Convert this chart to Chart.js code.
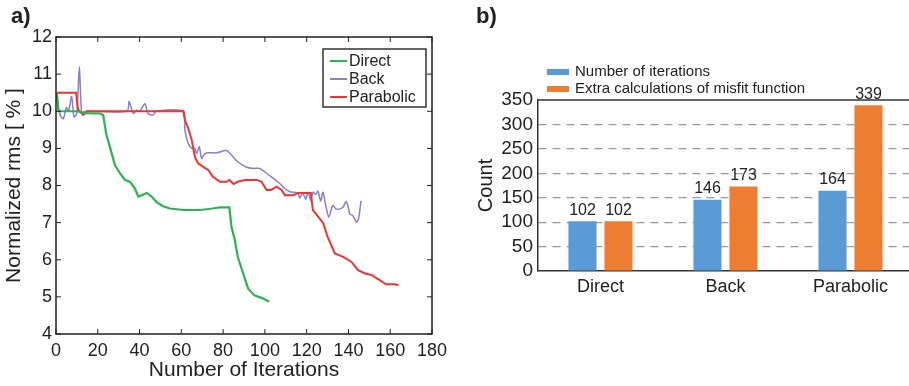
<!DOCTYPE html>
<html lang="en">
<head>
  <meta charset="UTF-8">
  <title>rms convergence and count</title>
  <script src="https://cdn.jsdelivr.net/npm/chart.js"></script>
  <style>
    html, body { margin: 0; padding: 0; background: #fff; overflow: hidden; }
    body { width: 909px; height: 386px; position: relative; }
    #chartA { position: absolute; left: 0; top: 0; }
    #chartB { position: absolute; left: 460px; top: 0; }
  </style>
</head>
<body>
  <canvas id="chartA" width="460" height="386"></canvas>
  <canvas id="chartB" width="470" height="386"></canvas>

  <script>
    // a) normalized rms vs iteration
    const directIter = [0, 0.5, 1.2, 10, 14, 21, 22.6, 24, 25.8, 28.2, 30.6, 33, 35.4, 37.8, 39.4, 41, 43.4, 45.8, 48, 51, 54.5, 61, 69, 75, 78.5, 83, 84, 85.6, 87, 89.6, 92, 95, 99, 102]
    const directRms = [10.44, 10.44, 10.0, 10.0, 9.95, 9.94, 9.9, 9.4, 9.04, 8.55, 8.33, 8.15, 8.1, 7.92, 7.7, 7.74, 7.8, 7.7, 7.56, 7.45, 7.38, 7.34, 7.34, 7.38, 7.41, 7.41, 6.89, 6.53, 6.08, 5.63, 5.22, 5.04, 4.96, 4.87]

    const backIter = [0, 2, 3.5, 5, 6, 7.5, 8.6, 10, 11.2, 12.3, 14, 34, 35, 37, 38.6, 40, 42.6, 44, 46.5, 48, 61, 61.7, 63.3, 65, 66.5, 67.3, 68.6, 69.7, 71.3, 73.7, 77, 81.6, 84, 87, 91, 94.4, 97.6, 100.8, 104, 107, 109.6, 112, 115.8, 116.7, 118, 119.6, 120.6, 122, 123, 124.4, 125.4, 126.7, 127.8, 129, 130.6, 132.5, 134, 136, 137.5, 138.8, 139.7, 140.7, 142, 144, 145, 146]
    const backRms = [10.4, 9.9, 9.8, 10.1, 10.0, 10.4, 9.85, 9.95, 11.2, 9.95, 10.0, 10.0, 10.26, 9.94, 10.03, 10.0, 10.2, 9.94, 9.9, 10.0, 10.0, 9.5, 9.13, 9.0, 9.0, 8.86, 9.04, 8.73, 8.86, 8.88, 8.88, 8.94, 8.82, 8.64, 8.5, 8.46, 8.46, 8.33, 8.19, 8.06, 7.92, 7.83, 7.8, 7.66, 7.8, 7.63, 7.82, 7.6, 7.82, 7.76, 7.85, 7.58, 7.82, 7.5, 7.15, 7.46, 7.37, 7.37, 7.42, 7.57, 7.46, 7.23, 7.19, 7.01, 7.15, 7.59]

    const paraIter = [0, 1, 9.6, 10.5, 13, 15, 61, 61.7, 63.3, 65, 66.5, 68, 70.5, 73, 75, 78.5, 81.6, 83, 85, 87, 90.4, 96, 98.4, 100.8, 103, 105.6, 108, 109.6, 113.6, 116, 122, 123, 125.5, 128, 130, 133.5, 137.5, 141.5, 144.6, 148, 151, 155, 158, 162, 164]
    const paraRms = [10.45, 10.5, 10.5, 10.05, 9.9, 10.0, 10.0, 9.76, 9.54, 9.22, 8.77, 8.6, 8.5, 8.41, 8.24, 8.1, 8.1, 8.15, 8.04, 8.1, 8.15, 8.15, 8.1, 7.88, 7.88, 7.97, 7.88, 7.74, 7.74, 7.8, 7.8, 7.34, 7.16, 6.98, 6.62, 6.17, 6.08, 5.94, 5.72, 5.63, 5.59, 5.45, 5.34, 5.34, 5.32]

    // b) counts per method
    const methods = ['Direct', 'Back', 'Parabolic']
    const iterCount = [102, 146, 164]
    const extraCalc = [102, 173, 339]

    const FONT = '"Liberation Sans", Arial, sans-serif'
    const INK = '#222'

    function pts(xs, ys) {
      return xs.map((x, i) => ({ x: x, y: ys[i] }))
    }

    // frame + inward ticks + legend + panel letter for a)
    const framePlugin = {
      id: 'frameA',
      afterDraw(chart) {
        const c = chart.ctx, a = chart.chartArea
        const sx = chart.scales.x, sy = chart.scales.y
        c.save()
        c.strokeStyle = INK
        c.lineWidth = 1.5
        c.strokeRect(a.left, a.top, a.right - a.left, a.bottom - a.top)
        c.lineWidth = 1
        c.beginPath()
        sx.ticks.forEach(t => {
          const px = sx.getPixelForValue(t.value)
          c.moveTo(px, a.bottom); c.lineTo(px, a.bottom - 5)
          c.moveTo(px, a.top); c.lineTo(px, a.top + 5)
        })
        sy.ticks.forEach(t => {
          const py = sy.getPixelForValue(t.value)
          c.moveTo(a.left, py); c.lineTo(a.left + 5, py)
          c.moveTo(a.right, py); c.lineTo(a.right - 5, py)
        })
        c.stroke()

        // legend box
        c.fillStyle = '#fff'
        c.fillRect(323, 49, 103, 58)
        c.lineWidth = 1.5
        c.strokeStyle = '#333'
        c.strokeRect(323, 49, 103, 58)
        c.font = '16px ' + FONT
        c.textBaseline = 'middle'
        chart.data.datasets.forEach((ds, k) => {
          const y = 61 + k * 18
          c.strokeStyle = ds.borderColor
          c.lineWidth = 2
          c.beginPath(); c.moveTo(330, y); c.lineTo(347, y); c.stroke()
          c.fillStyle = INK
          c.fillText(ds.label, 349, y + 1)
        })

        c.font = 'bold 22px ' + FONT
        c.fillStyle = INK
        c.fillText('a)', 11, 17)
        c.restore()
      }
    }

    new Chart(document.getElementById('chartA'), {
      type: 'scatter',
      data: {
        datasets: [{
          label: 'Direct',
          data: pts(directIter, directRms),
          borderColor: 'rgb(46,178,84)',
          borderWidth: 2.2,
          showLine: true,
          pointRadius: 0,
          order: 0
        }, {
          label: 'Back',
          data: pts(backIter, backRms),
          borderColor: 'rgb(132,130,204)',
          borderWidth: 1.5,
          showLine: true,
          pointRadius: 0,
          tension: 0.25,
          order: 2
        }, {
          label: 'Parabolic',
          data: pts(paraIter, paraRms),
          borderColor: 'rgb(240,52,52)',
          borderWidth: 2,
          showLine: true,
          pointRadius: 0,
          order: 1
        }]
      },
      options: {
        responsive: false,
        animation: false,
        layout: { padding: { top: 37, right: 28, left: 0, bottom: 0 } },
        plugins: { legend: { display: false }, tooltip: { enabled: false } },
        scales: {
          x: {
            type: 'linear', min: 0, max: 180,
            afterFit: s => { s.height = 52 },
            grid: { display: false, drawTicks: false },
            border: { display: false },
            ticks: { stepSize: 20, autoSkip: false, maxRotation: 0, padding: 6, color: INK, font: { family: FONT, size: 18 } },
            title: { display: true, text: 'Number of Iterations', color: INK, padding: { top: 0, bottom: 3 }, font: { family: FONT, size: 21 } }
          },
          y: {
            min: 4, max: 12,
            afterFit: s => { s.width = 56 },
            grid: { display: false, drawTicks: false },
            border: { display: false },
            ticks: { stepSize: 1, autoSkip: false, padding: 4, color: INK, font: { family: FONT, size: 18 } },
            title: { display: true, text: 'Normalized rms [ % ]', color: INK, padding: { top: 2, bottom: 0 }, font: { family: FONT, size: 21 } }
          }
        }
      },
      plugins: [framePlugin]
    })

    // value labels, legend, top line, letter for b)
    const barPlugin = {
      id: 'barsB',
      afterDatasetsDraw(chart) {
        const c = chart.ctx
        c.save()
        c.font = '16px ' + FONT
        c.fillStyle = INK
        c.textAlign = 'center'
        c.textBaseline = 'bottom'
        chart.data.datasets.forEach((ds, i) => {
          chart.getDatasetMeta(i).data.forEach((bar, j) => {
            c.fillText(ds.data[j], bar.x, bar.y - 3)
          })
        })
        c.restore()
      },
      afterDraw(chart) {
        const c = chart.ctx, a = chart.chartArea
        c.save()
        c.strokeStyle = '#333'
        c.lineWidth = 1.5
        c.beginPath(); c.moveTo(a.left, a.top); c.lineTo(a.right, a.top); c.stroke()

        c.font = '15px ' + FONT
        c.textBaseline = 'middle'
        chart.data.datasets.forEach((ds, i) => {
          const y = 72 + i * 17
          c.fillStyle = ds.backgroundColor
          c.fillRect(87, y - 3, 22, 6)
          c.fillStyle = INK
          c.fillText(ds.label, 115, y)
        })

        c.font = 'bold 22px ' + FONT
        c.fillStyle = INK
        c.textAlign = 'left'
        c.fillText('b)', 16, 17)
        c.restore()
      }
    }

    new Chart(document.getElementById('chartB'), {
      type: 'bar',
      data: {
        labels: methods,
        datasets: [{
          label: 'Number of iterations',
          data: iterCount,
          backgroundColor: '#5b9bd5'
        }, {
          label: 'Extra calculations of misfit function',
          data: extraCalc,
          backgroundColor: '#ed7d31'
        }]
      },
      options: {
        responsive: false,
        animation: false,
        categoryPercentage: 0.576,
        barPercentage: 0.78,
        layout: { padding: { top: 100, right: 17, left: 0, bottom: 0 } },
        plugins: { legend: { display: false }, tooltip: { enabled: false } },
        scales: {
          x: {
            afterFit: s => { s.height = 115 },
            grid: { display: false, drawTicks: false },
            border: { display: true, color: '#333', width: 1.5 },
            ticks: { padding: 5, color: INK, font: { family: FONT, size: 18 } }
          },
          y: {
            min: 0, max: 350,
            afterFit: s => { s.width = 78 },
            grid: {
              drawTicks: false,
              color: ctx => (ctx.tick.value === 0 || ctx.tick.value === 350) ? 'rgba(0,0,0,0)' : '#9a9a9a',
              lineWidth: 1.2
            },
            border: { display: true, color: '#333', width: 1.5, dash: [8, 6] },
            ticks: { stepSize: 50, autoSkip: false, padding: 5, color: INK, font: { family: FONT, size: 19 } },
            title: { display: true, text: 'Count', color: INK, padding: { top: 14, bottom: 0 }, font: { family: FONT, size: 20 } }
          }
        }
      },
      plugins: [barPlugin]
    })
  </script>
</body>
</html>
